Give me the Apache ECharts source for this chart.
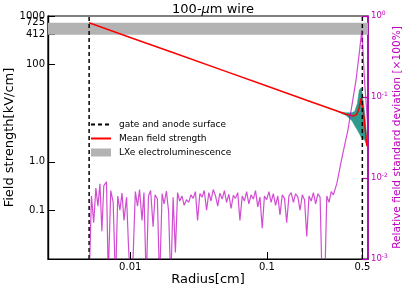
<!DOCTYPE html>
<html><head><meta charset="utf-8">
<script src="https://cdn.jsdelivr.net/npm/echarts@6/dist/echarts.min.js"></script>
<style>html,body{margin:0;padding:0;background:#fff}#c{width:407px;height:292px}</style>
</head><body><div id="c"></div>
<script>
// ---- data ----
const surfaceRadii = [0.005, 0.5];           // gate and anode surface [cm]
const elBand = [412, 725];                   // LXe electroluminescence band [kV/cm]
const meanR = [0.005, 0.01, 0.02, 0.05, 0.1, 0.2, 0.3, 0.38, 0.43, 0.455, 0.475, 0.49, 0.497, 0.505, 0.52, 0.54];
const meanE = [725, 362, 181, 72.5, 36.2, 18.1, 12.1, 9.5, 8.7, 9.5, 13, 20.5, 21, 13, 6, 2.1];
const bandR = [0.33, 0.38, 0.42, 0.44, 0.46, 0.475, 0.49, 0.50, 0.52, 0.54];
const bandUpper = [10.9, 10.2, 10.2, 11, 16, 30, 33, 25, 10, 3];
const bandLower = [10.9, 9.0, 7.0, 5.5, 4.5, 3.8, 3.2, 3.0, 2.8, 2.2];
const devR = [
0.0050,0.0052,0.0054,0.0056,0.0058,0.0060,0.0062,0.0064,0.0067,0.0069,
0.0072,0.0075,0.0078,0.0081,0.0084,0.0087,0.0090,0.0094,0.0097,0.0101,
0.0105,0.0109,0.0113,0.0117,0.0122,0.0126,0.0131,0.0136,0.0141,0.0147,
0.0152,0.0158,0.0164,0.0171,0.0177,0.0184,0.0191,0.0198,0.0206,0.0214,
0.0222,0.0230,0.0239,0.0248,0.0258,0.0268,0.0278,0.0289,0.0300,0.0311,
0.0323,0.0336,0.0348,0.0362,0.0376,0.0390,0.0405,0.0421,0.0437,0.0453,
0.0471,0.0489,0.0507,0.0527,0.0547,0.0568,0.0589,0.0612,0.0635,0.0660,
0.0685,0.0711,0.0738,0.0766,0.0796,0.0826,0.0858,0.0890,0.0925,0.0960,
0.0997,0.1035,0.1074,0.1115,0.1158,0.1202,0.1248,0.1296,0.1346,0.1397,
0.1451,0.1506,0.1564,0.1624,0.1686,0.1750,0.1817,0.1887,0.1959,0.2034,
0.2111,0.2192,0.2276,0.2363,0.2453,0.2547,0.2645,0.2746,0.2851,0.2960,
0.3073,0.326,0.350,0.370,0.392,0.420,0.449,0.475,0.496,0.520,0.550];
const devVal = [
0.0005,0.0060,0.0028,0.0075,0.0045,0.0085,0.0022,0.0080,0.0090,0.0006,
0.0070,0.0050,0.0005,0.0060,0.0040,0.0065,0.0030,0.0058,0.0015,0.0004,
0.0011,0.0068,0.0045,0.0072,0.0030,0.0066,0.0005,0.0060,0.0070,0.0025,
0.0062,0.0055,0.0005,0.0064,0.0048,0.0069,0.0038,0.0005,0.0058,0.0012,
0.0066,0.0052,0.0060,0.0046,0.0054,0.0050,0.0062,0.0056,0.0068,0.0030,
0.0064,0.0058,0.0070,0.0040,0.0066,0.0052,0.0072,0.0060,0.0045,0.0065,
0.0055,0.0070,0.0050,0.0063,0.0042,0.0061,0.0056,0.0066,0.0030,0.0060,
0.0052,0.0068,0.0048,0.0062,0.0055,0.0070,0.0044,0.0058,0.0024,0.0060,
0.0054,0.0068,0.0050,0.0064,0.0046,0.0060,0.0035,0.0062,0.0056,0.0028,
0.0060,0.0066,0.0050,0.0064,0.0058,0.0040,0.0062,0.0054,0.0019,0.0060,
0.0052,0.0066,0.0048,0.0064,0.0058,0.0004,0.0004,0.0060,0.0050,0.0068,
0.0062,0.0087,0.016,0.025,0.039,0.080,0.16,0.35,0.67,0.15,0.04];
const xTicks = [0.01, 0.1, 0.5];
const yTicks = [0.1, 1, 100, 412, 725, 1000];
const yTickLabels = ['0.1', '1.0', '100', '412', '725', '1000'];

// ---- chart ----
const FONT = 'DejaVu Sans';
const MAG = '#bf00bf';
const Y_MIN = 0.01, Y_MAX = 1000.01;
const chart = echarts.init(document.getElementById('c'), null, {renderer: 'canvas'});
const fmtNum = v => String(Number(Number(v).toPrecision(3)));
const findLabel = v => { for (let i = 0; i < yTicks.length; i++) if (Math.abs(v - yTicks[i]) / yTicks[i] < 1e-4) return yTickLabels[i]; return fmtNum(v); };
// ticks that sit too close to their neighbour go on an overlaid twin axis so ECharts does not drop them
const yTicksMain = yTicks.filter(v => v !== elBand[1]);
const yTicksTwin = yTicks.filter(v => v === elBand[1]);

const surfaceSeries = surfaceRadii.map(r => ({
  name: 'gate and anode surface', type: 'line', symbol: 'none', z: 5,
  data: [[r, Y_MIN], [r, Y_MAX]],
  itemStyle: {color: '#000'}, lineStyle: {color: '#000', width: 1.5, type: [4, 3]}
}));

const leftAxisBase = (ticks) => ({
  type: 'log', logBase: 10, min: Y_MIN, max: Y_MAX, position: 'left',
  axisLine: {show: true, lineStyle: {color: '#000', width: 1.2}},
  axisTick: {inside: true, length: 7, lineStyle: {color: '#000'}, customValues: ticks},
  axisLabel: {margin: 3, fontFamily: FONT, fontSize: 10, color: '#000', customValues: ticks, formatter: v => findLabel(v),
    showMinLabel: true, showMaxLabel: true, hideOverlap: false},
  splitLine: {show: false}
});

const option = {
  animation: false,
  backgroundColor: '#fff',
  textStyle: {fontFamily: FONT},
  title: {
    text: '100-{i|μ}m wire', left: 208, top: -3, textAlign: 'center',
    textStyle: {fontFamily: FONT, fontSize: 13, fontWeight: 'normal', color: '#000', lineHeight: 15,
      rich: {i: {fontFamily: FONT, fontSize: 13, fontStyle: 'italic', color: '#000', lineHeight: 15}}}
  },
  grid: {left: 48, right: 39, top: 16, bottom: 33, outerBoundsMode: 'none', containLabel: false,
    show: true, borderColor: '#000', borderWidth: 1.2, backgroundColor: 'transparent'},
  legend: {
    orient: 'vertical', left: 90, top: 120, padding: 0, itemGap: 5,
    itemWidth: 20, itemHeight: 8,
    textStyle: {fontFamily: FONT, fontSize: 9, color: '#000', padding: [0, 0, 0, 3]},
    data: [
      {name: 'gate and anode surface', itemStyle: {opacity: 0}},
      {name: 'Mean field strength', itemStyle: {opacity: 0}},
      {name: 'LXe electroluminescence', icon: 'rect'}
    ]
  },
  xAxis: {
    type: 'log', logBase: 10, min: 0.0025, max: 0.55,
    name: 'Radius[cm]', nameLocation: 'middle', nameGap: 14, nameMoveOverlap: false,
    nameTextStyle: {fontFamily: FONT, fontSize: 13, color: '#000'},
    axisLine: {lineStyle: {color: '#000', width: 1.2}},
    axisTick: {inside: true, length: 7, lineStyle: {color: '#000'}, customValues: xTicks},
    axisLabel: {margin: 3, fontFamily: FONT, fontSize: 10, color: '#000', customValues: xTicks, formatter: v => fmtNum(v),
      showMinLabel: true, showMaxLabel: true, hideOverlap: false},
    minorTick: {show: false}, splitLine: {show: false}
  },
  yAxis: [
    Object.assign(leftAxisBase(yTicksMain), {
      name: 'Field strength[kV/cm]', nameLocation: 'middle', nameGap: 32, nameRotate: 90, nameMoveOverlap: false,
      nameTextStyle: {fontFamily: FONT, fontSize: 13, color: '#000'}
    }),
    {
      type: 'log', logBase: 10, min: 0.001, max: 1, position: 'right',
      name: 'Relative field standard deviation [×100%]', nameLocation: 'middle', nameGap: 24, nameRotate: 90, nameMoveOverlap: false,
      nameTextStyle: {fontFamily: FONT, fontSize: 10.6, color: MAG},
      axisLine: {show: true, lineStyle: {color: MAG, width: 1.5}},
      axisTick: {inside: true, length: 6, lineStyle: {color: MAG, width: 1.2}},
      axisLabel: {margin: 3, color: MAG, showMinLabel: true, showMaxLabel: true, formatter: v => {
        const e = Math.round(Math.log10(v));
        return '{b|10}{s|' + (e === 0 ? '0' : '-' + (-e)) + '}';
      }, rich: {b: {fontFamily: FONT, fontSize: 8.5, color: MAG}, s: {fontFamily: FONT, fontSize: 6, color: MAG, padding: [0, 0, 5, 0]}}},
      splitLine: {show: false}
    },
    leftAxisBase(yTicksTwin)
  ],
  series: [
    {
      name: 'LXe electroluminescence', type: 'line', data: [], symbol: 'none',
      itemStyle: {color: '#b3b3b3'}, lineStyle: {color: '#b3b3b3'},
      markArea: {silent: true, itemStyle: {color: '#b3b3b3'}, data: [[{yAxis: elBand[0]}, {yAxis: elBand[1]}]]},
      z: 1
    },
    {
      name: 'std band', type: 'custom', xAxisIndex: 0, yAxisIndex: 0, z: 3, clip: true,
      data: bandR.map((r, i) => [r, bandUpper[i], bandLower[i]]),
      encode: {x: 0, y: [1, 2]},
      renderItem: (params, api) => {
        if (params.dataIndex !== 0) return null;
        const pts = [];
        for (let i = 0; i < bandR.length; i++) pts.push(api.coord([bandR[i], bandUpper[i]]));
        for (let i = bandR.length - 1; i >= 0; i--) pts.push(api.coord([bandR[i], bandLower[i]]));
        return {type: 'polygon', shape: {points: pts}, style: {fill: '#2e9a8c', stroke: '#2e9a8c', lineWidth: 0.5}};
      }
    },
    {
      name: 'Mean field strength', type: 'line', symbol: 'none', z: 4,
      data: meanR.map((r, i) => [r, meanE[i]]),
      itemStyle: {color: '#ff0000'}, lineStyle: {color: '#ff0000', width: 1.5}
    },
    ...surfaceSeries,
    {
      name: 'Relative std', type: 'line', yAxisIndex: 1, symbol: 'none', z: 6, clip: true,
      data: devR.map((r, i) => [r, devVal[i]]),
      lineStyle: {color: 'rgba(191,0,191,0.7)', width: 1.2}, itemStyle: {color: 'rgba(191,0,191,0.7)'}
    }
  ]
};
chart.setOption(option);
</script>
</body></html>
